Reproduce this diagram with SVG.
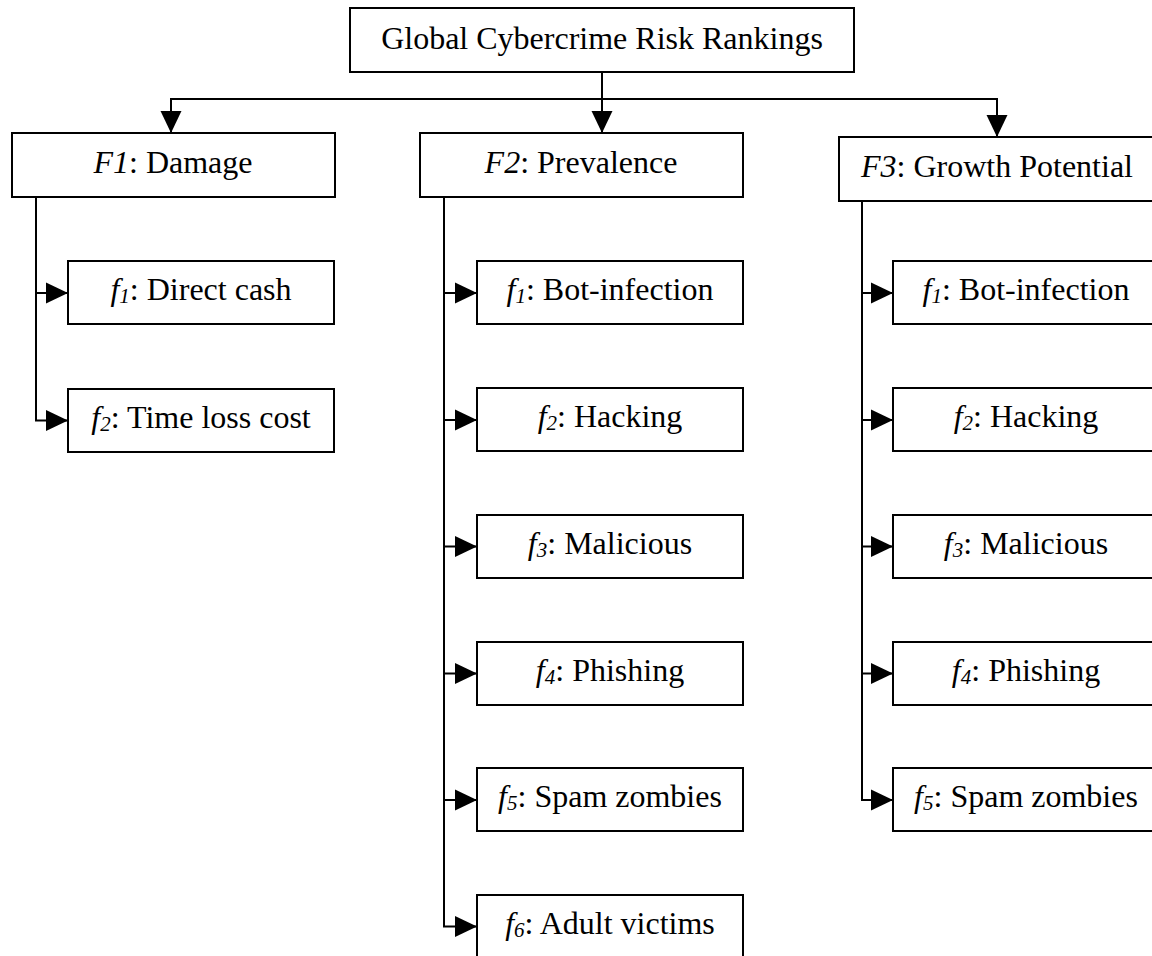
<svg xmlns="http://www.w3.org/2000/svg" width="1152" height="956" viewBox="0 0 1152 956">
<style>
.box{fill:#fff;stroke:#000;stroke-width:2}
.ln{fill:none;stroke:#000;stroke-width:2}
text{font-family:"Liberation Serif","Times New Roman",serif;font-size:32px;fill:#000;text-anchor:middle}
.i{font-style:italic}
.s{font-style:italic;font-size:21px}
</style>
<defs>
<marker id="ah" markerUnits="userSpaceOnUse" markerWidth="22" markerHeight="22" viewBox="0 0 21 20" refX="21" refY="10" orient="auto">
<path d="M0,0 L21,10 L0,20 Z" fill="#000"/>
</marker>
</defs>
<rect width="1152" height="956" fill="#fff"/>
<g id="connectors">
<line class="ln" x1="602" y1="72" x2="602" y2="133" marker-end="url(#ah)"/>
<line class="ln" x1="170" y1="99" x2="998" y2="99"/>
<line class="ln" x1="171" y1="99" x2="171" y2="133" marker-end="url(#ah)"/>
<line class="ln" x1="997" y1="99" x2="997" y2="137" marker-end="url(#ah)"/>
<path class="ln" d="M36,197 V420.5 H68" marker-end="url(#ah)"/>
<line class="ln" x1="36" y1="293" x2="68" y2="293" marker-end="url(#ah)"/>
<path class="ln" d="M444,197 V926.5 H477" marker-end="url(#ah)"/>
<line class="ln" x1="444" y1="293" x2="477" y2="293" marker-end="url(#ah)"/>
<line class="ln" x1="444" y1="420" x2="477" y2="420" marker-end="url(#ah)"/>
<line class="ln" x1="444" y1="546.5" x2="477" y2="546.5" marker-end="url(#ah)"/>
<line class="ln" x1="444" y1="673.5" x2="477" y2="673.5" marker-end="url(#ah)"/>
<line class="ln" x1="444" y1="800" x2="477" y2="800" marker-end="url(#ah)"/>
<path class="ln" d="M862,201 V800 H893" marker-end="url(#ah)"/>
<line class="ln" x1="862" y1="293" x2="893" y2="293" marker-end="url(#ah)"/>
<line class="ln" x1="862" y1="420" x2="893" y2="420" marker-end="url(#ah)"/>
<line class="ln" x1="862" y1="546.5" x2="893" y2="546.5" marker-end="url(#ah)"/>
<line class="ln" x1="862" y1="673.5" x2="893" y2="673.5" marker-end="url(#ah)"/>
</g>
<g id="root"><rect class="box" x="350" y="8" width="504" height="64"/><text x="602" y="49">Global Cybercrime Risk Rankings</text></g>
<g id="F1"><rect class="box" x="12" y="133" width="323" height="64"/><text x="173" y="173"><tspan class="i">F1</tspan>: Damage</text></g>
<g id="F2"><rect class="box" x="420" y="133" width="323" height="64"/><text x="581" y="173"><tspan class="i">F2</tspan>: Prevalence</text></g>
<g id="F3"><rect class="box" x="839" y="137" width="316" height="64"/><text x="997" y="177"><tspan class="i">F3</tspan>: Growth Potential</text></g>
<g id="F1-f1"><rect class="box" x="68" y="261" width="266" height="63"/><text x="201" y="300"><tspan class="i">f</tspan><tspan class="s" dy="3">1</tspan><tspan dy="-3">: Direct cash</tspan></text></g>
<g id="F1-f2"><rect class="box" x="68" y="389" width="266" height="63"/><text x="201" y="428"><tspan class="i">f</tspan><tspan class="s" dy="3">2</tspan><tspan dy="-3">: Time loss cost</tspan></text></g>
<g id="F2-f1"><rect class="box" x="477" y="261" width="266" height="63"/><text x="610" y="300"><tspan class="i">f</tspan><tspan class="s" dy="3">1</tspan><tspan dy="-3">: Bot-infection</tspan></text></g>
<g id="F2-f2"><rect class="box" x="477" y="388" width="266" height="63"/><text x="610" y="427"><tspan class="i">f</tspan><tspan class="s" dy="3">2</tspan><tspan dy="-3">: Hacking</tspan></text></g>
<g id="F2-f3"><rect class="box" x="477" y="515" width="266" height="63"/><text x="610" y="554"><tspan class="i">f</tspan><tspan class="s" dy="3">3</tspan><tspan dy="-3">: Malicious</tspan></text></g>
<g id="F2-f4"><rect class="box" x="477" y="642" width="266" height="63"/><text x="610" y="681"><tspan class="i">f</tspan><tspan class="s" dy="3">4</tspan><tspan dy="-3">: Phishing</tspan></text></g>
<g id="F2-f5"><rect class="box" x="477" y="768" width="266" height="63"/><text x="610" y="807"><tspan class="i">f</tspan><tspan class="s" dy="3">5</tspan><tspan dy="-3">: Spam zombies</tspan></text></g>
<g id="F2-f6"><rect class="box" x="477" y="895" width="266" height="63"/><text x="610" y="934"><tspan class="i">f</tspan><tspan class="s" dy="3">6</tspan><tspan dy="-3">: Adult victims</tspan></text></g>
<g id="F3-f1"><rect class="box" x="893" y="261" width="266" height="63"/><text x="1026" y="300"><tspan class="i">f</tspan><tspan class="s" dy="3">1</tspan><tspan dy="-3">: Bot-infection</tspan></text></g>
<g id="F3-f2"><rect class="box" x="893" y="388" width="266" height="63"/><text x="1026" y="427"><tspan class="i">f</tspan><tspan class="s" dy="3">2</tspan><tspan dy="-3">: Hacking</tspan></text></g>
<g id="F3-f3"><rect class="box" x="893" y="515" width="266" height="63"/><text x="1026" y="554"><tspan class="i">f</tspan><tspan class="s" dy="3">3</tspan><tspan dy="-3">: Malicious</tspan></text></g>
<g id="F3-f4"><rect class="box" x="893" y="642" width="266" height="63"/><text x="1026" y="681"><tspan class="i">f</tspan><tspan class="s" dy="3">4</tspan><tspan dy="-3">: Phishing</tspan></text></g>
<g id="F3-f5"><rect class="box" x="893" y="768" width="266" height="63"/><text x="1026" y="807"><tspan class="i">f</tspan><tspan class="s" dy="3">5</tspan><tspan dy="-3">: Spam zombies</tspan></text></g>
</svg>
